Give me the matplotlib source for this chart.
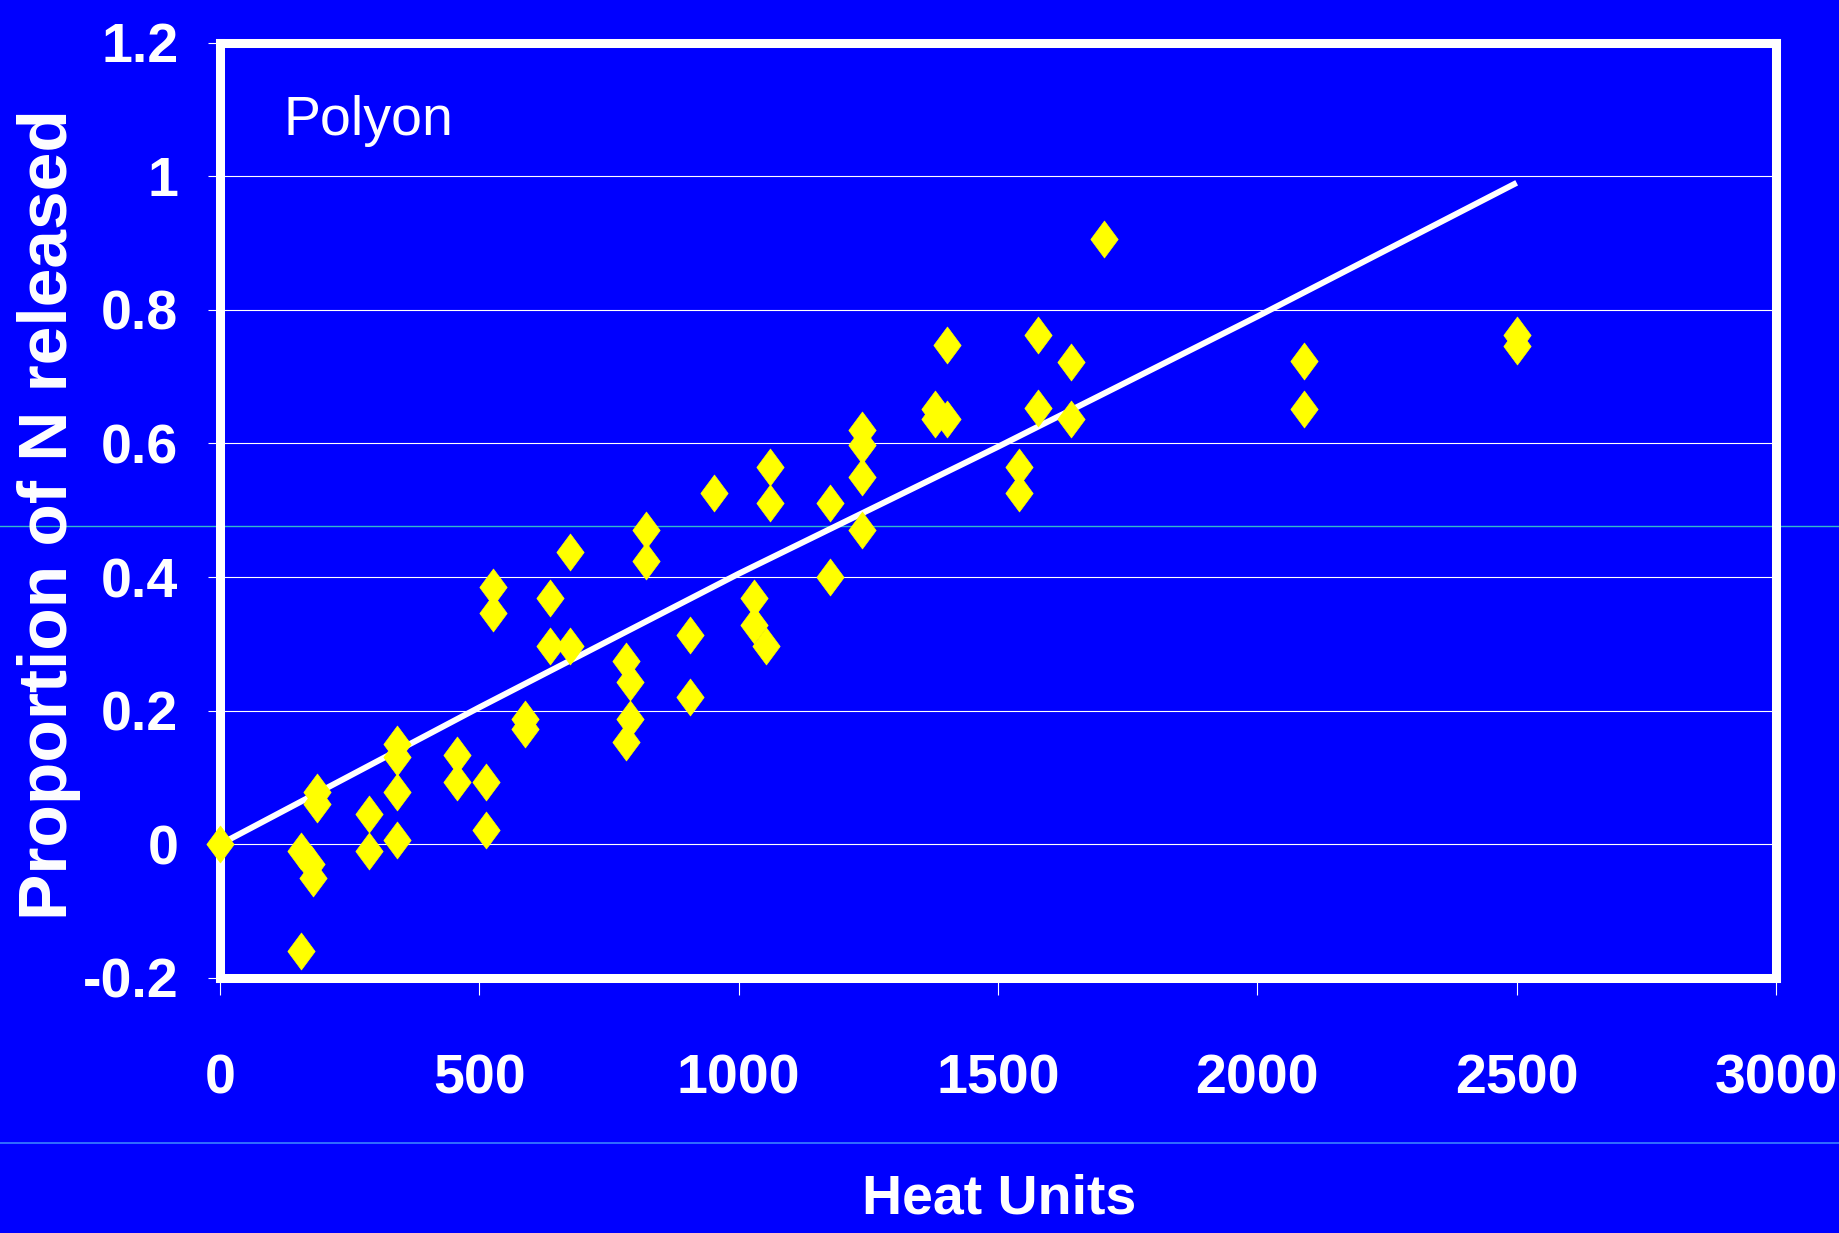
import matplotlib
matplotlib.use("Agg")
import matplotlib.pyplot as plt
from matplotlib.lines import Line2D

BLUE = "#0000ff"
YELLOW = "#ffff00"

heat_units = [0, 156, 175, 179, 156, 187, 187, 288, 288, 342, 342, 342, 342,
              456, 456, 512, 512, 527, 527, 589, 589, 636, 636, 675, 675,
              782, 790, 790, 782, 821, 821, 906, 906, 952, 1029, 1029, 1052,
              1060, 1060, 1176, 1176, 1238, 1238, 1238, 1238, 1379, 1379,
              1401, 1401, 1540, 1540, 1577, 1577, 1640, 1640, 1704, 2090,
              2090, 2500, 2500]
n_released = [0.0, -0.01, -0.03, -0.05, -0.16, 0.078, 0.06, 0.045, -0.01,
              0.15, 0.13, 0.078, 0.007, 0.133, 0.093, 0.093, 0.022, 0.385,
              0.346, 0.187, 0.172, 0.369, 0.297, 0.297, 0.437, 0.275, 0.243,
              0.188, 0.153, 0.471, 0.424, 0.313, 0.22, 0.526, 0.368, 0.328,
              0.297, 0.565, 0.511, 0.511, 0.40, 0.62, 0.597, 0.55, 0.471,
              0.652, 0.636, 0.636, 0.747, 0.565, 0.526, 0.763, 0.653, 0.722,
              0.636, 0.906, 0.723, 0.652, 0.762, 0.746]

fit_x = [0, 500, 1000, 1500, 2000, 2500]
fit_y = [0.0, 0.205, 0.405, 0.595, 0.79, 0.99]

x_ticks = [0, 500, 1000, 1500, 2000, 2500, 3000]
y_ticks = [-0.2, 0, 0.2, 0.4, 0.6, 0.8, 1, 1.2]
y_tick_labels = ["-0.2", "0", "0.2", "0.4", "0.6", "0.8", "1", "1.2"]

FONT = ["Liberation Sans", "DejaVu Sans"]

W, H = 1839, 1233
fig = plt.figure(figsize=(W / 100, H / 100), dpi=100)
fig.patch.set_facecolor(BLUE)

# stray slide lines running across the whole picture
fig.add_artist(Line2D([0, 1], [1 - 526 / H] * 2, color="#33b8cc", lw=1.0, zorder=-1))
fig.add_artist(Line2D([0, 1], [1 - 1143 / H] * 2, color="#3a80ff", lw=1.2, zorder=-1))

ax = fig.add_axes([220 / W, 1 - 978 / H, 1556 / W, (978 - 42.5) / H])
ax.set_facecolor("none")

ax.plot(fit_x, fit_y, color="white", lw=4.3, zorder=3, solid_capstyle="butt")

diamond = [(-0.74, 0), (0, 1), (0.74, 0), (0, -1), (-0.74, 0)]
ax.plot(heat_units, n_released, linestyle="none", marker=diamond,
        markersize=26.6, markerfacecolor=YELLOW, markeredgecolor=YELLOW,
        markeredgewidth=0.5, zorder=5, clip_on=False)

ax.set_xlim(0, 3000)
ax.set_ylim(-0.2, 1.2)
ax.set_xticks(x_ticks)
ax.set_yticks(y_ticks)
ax.set_yticklabels(y_tick_labels)
ax.yaxis.grid(True, color="white", lw=0.8, zorder=1)
ax.set_axisbelow(True)

for sp in ax.spines.values():
    sp.set_color("white")
    sp.set_linewidth(6.5)
    sp.set_capstyle("projecting")
    sp.set_zorder(4)

ax.tick_params(axis="x", direction="out", length=12, width=0.8, colors="white", pad=42)
ax.tick_params(axis="y", direction="out", length=9, width=0.8, colors="white", pad=21)
for lab in ax.get_xticklabels() + ax.get_yticklabels():
    lab.set_family(FONT)
    lab.set_fontweight("bold")
    lab.set_fontsize(40)

ax.text(123, 1.062, "Polyon", color="white", fontsize=40, family=FONT,
        va="baseline", ha="left")

fig.text(999.5 / W, 1 - 1200 / H, "Heat Units", color="white", fontsize=40,
         family=FONT, fontweight="bold", ha="center", va="center")
fig.text(49 / W, 1 - 515 / H, "Proportion of N released", color="white",
         fontsize=50, family=FONT, fontweight="bold", rotation=90,
         ha="center", va="center")

fig.savefig("out.png", dpi=100, facecolor=BLUE)
